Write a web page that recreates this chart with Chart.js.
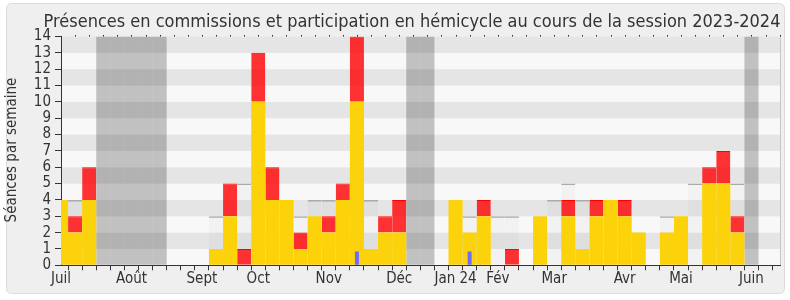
<!DOCTYPE html>
<html>
<head>
<meta charset="utf-8">
<script src="https://cdn.jsdelivr.net/npm/chart.js@4/dist/chart.umd.min.js"></script>
<style>
  html, body { margin: 0; padding: 0; background: #fff; }
  canvas { display: block; }
</style>
</head>
<body>
<canvas id="chart" width="790" height="300"></canvas>
<script>
// semaines de la session (0 = début juillet 2023)
const weeks = [0, 1, 2, 3, 4, 5, 6, 7, 8, 9, 10, 11, 12, 13, 14, 15, 16, 17, 18, 19, 20, 21, 22, 23, 24, 25,
               26, 27, 28, 29, 30, 31, 32, 33, 34, 35, 36, 37, 38, 39, 40, 41, 42, 43, 44, 45, 46, 47, 48, 49, 50, 51];
const monthWeeks = [0, 5, 10, 14, 19, 24, 28, 31, 35, 40, 44, 49];
const monthLabels = ['Juil', 'Août', 'Sept', 'Oct', 'Nov', 'Déc', 'Jan 24', 'Fév', 'Mar', 'Avr', 'Mai', 'Juin'];

const commission = [4, 2, 4, 0, 0, 0, 0, 0, 0, 0, 0, 1, 3, 0, 10, 4, 4, 1, 3, 2, 4, 10, 1, 2, 2, 0,
                    0, 0, 4, 2, 3, 0, 0, 0, 3, 0, 3, 1, 3, 4, 3, 2, 0, 2, 3, 0, 5, 5, 2, 0, 0, 0];
const hemicycle  = [0, 1, 2, 0, 0, 0, 0, 0, 0, 0, 0, 0, 2, 1, 3, 2, 0, 1, 0, 1, 1, 4, 0, 1, 2, 0,
                    0, 0, 0, 0, 1, 0, 1, 0, 0, 0, 1, 0, 1, 0, 1, 0, 0, 0, 0, 0, 1, 2, 1, 0, 0, 0];
const mediane    = [0, 4, 0, 0, 0, 0, 0, 0, 0, 0, 0, 3, 0, 5, 0, 0, 0, 3, 4, 4, 0, 0, 4, 0, 0, 0,
                    0, 0, 0, 3, 0, 3, 3, 0, 0, 4, 5, 4, 0, 0, 0, 0, 0, 3, 0, 5, 5, 5, 5, 0, 0, 0];
const questions  = [0, 0, 0, 0, 0, 0, 0, 0, 0, 0, 0, 0, 0, 0, 0, 0, 0, 0, 0, 0, 0, 0.85, 0, 0, 0, 0,
                    0, 0, 0, 0.85, 0, 0, 0, 0, 0, 0, 0, 0, 0, 0, 0, 0, 0, 0, 0, 0, 0, 0, 0, 0, 0, 0];
const vacances   = [0, 0, 0, 14, 14, 14, 14, 14, 0, 0, 0, 0, 0, 0, 0, 0, 0, 0, 0, 0, 0, 0, 0, 0, 0, 14,
                    14, 0, 0, 0, 0, 0, 0, 0, 0, 0, 0, 0, 0, 0, 0, 0, 0, 0, 0, 0, 0, 0, 0, 14, 0, 0];

const FONT = '"DejaVu Sans Condensed", "DejaVu Sans"';
Chart.defaults.font.family = FONT;
Chart.defaults.color = '#333';

const decorPlugin = {
    id: 'decor',
    beforeDraw(chart) {
        const { ctx, chartArea: a, scales: { y } } = chart;
        ctx.save();
        ctx.fillStyle = '#fff';
        ctx.fillRect(0, 0, chart.width, chart.height);
        ctx.beginPath();
        ctx.roundRect(6.5, 3.5, 778, 290, 5);
        ctx.fillStyle = '#efefef';
        ctx.fill();
        ctx.strokeStyle = '#dcdcdc';
        ctx.lineWidth = 1;
        ctx.stroke();
        // bandes horizontales
        for (let v = 0; v < 14; v++) {
            const top = y.getPixelForValue(v + 1);
            const bot = y.getPixelForValue(v);
            ctx.fillStyle = v % 2 === 1 ? '#e5e5e5' : '#f8f8f8';
            ctx.fillRect(a.left, top, a.right - a.left, bot - top);
        }
        ctx.fillStyle = '#c8c8c8';
        ctx.fillRect(a.right - 0.5, a.top, 1, a.bottom - a.top);
        ctx.restore();
    },
    afterDraw(chart) {
        const { ctx, chartArea: a, scales: { x } } = chart;
        ctx.save();
        ctx.fillStyle = '#333';
        ctx.font = '18px ' + FONT;
        ctx.textAlign = 'center';
        ctx.textBaseline = 'alphabetic';
        ctx.fillText('Présences en commissions et participation en hémicycle au cours de la session 2023-2024', 412, 26.7);

        ctx.translate(12, 150);
        ctx.rotate(-Math.PI / 2);
        ctx.font = '15px ' + FONT;
        ctx.textBaseline = 'middle';
        ctx.fillText('Séances par semaine', 0, 0);
        ctx.restore();

        // petits points en haut de chaque semaine
        ctx.save();
        ctx.fillStyle = '#222';
        weeks.forEach(w => {
            if (w === 0) return;
            const px = Math.round(x.getPixelForValue(w));
            ctx.fillRect(px, a.top - 1.5, 1, 1.5);
        });
        ctx.restore();
    }
};

const barBase = {
    grouped: false,
    barPercentage: 1,
    categoryPercentage: 1,
    inflateAmount: 0,
    borderWidth: 0
};

new Chart(document.getElementById('chart'), {
    type: 'bar',
    data: {
        labels: weeks,
        datasets: [
            { ...barBase, label: 'Questions orales', data: questions, stack: 'q',
              backgroundColor: '#6b6bff', barPercentage: 0.28 },
            { ...barBase, label: 'Commission', data: commission, stack: 's',
              backgroundColor: '#fcd20a' },
            { ...barBase, label: 'Hémicycle', data: hemicycle, stack: 's',
              backgroundColor: 'rgba(255, 0, 0, 0.8)', borderColor: '#ff0000',
              borderWidth: { top: 1, left: 0, right: 0, bottom: 0 }, borderSkipped: false },
            { ...barBase, label: 'Médiane', data: mediane, stack: 'm',
              backgroundColor: 'rgba(0, 0, 0, 0.025)', borderColor: '#aaaaaa',
              borderWidth: { top: 1.5, left: 0, right: 0, bottom: 0 }, borderSkipped: false },
            { ...barBase, label: 'Vacances', data: vacances, stack: 'v',
              backgroundColor: 'rgba(0, 0, 0, 0.22)' }
        ]
    },
    options: {
        responsive: false,
        animation: false,
        devicePixelRatio: 1,
        layout: { padding: { top: 36.5, left: 0, right: 9.5, bottom: 0 } },
        scales: {
            x: {
                type: 'linear',
                min: 0,
                max: 51.06,
                offset: false,
                z: 1,
                afterFit: scale => { scale.height = 34.7; },
                afterBuildTicks: scale => { scale.ticks = weeks.map(w => ({ value: w })); },
                ticks: {
                    autoSkip: false,
                    maxRotation: 0,
                    minRotation: 0,
                    padding: 0,
                    font: { size: 15 },
                    color: '#333',
                    callback: value => {
                        const k = monthWeeks.indexOf(value);
                        return k >= 0 ? monthLabels[k] : '';
                    }
                },
                grid: { drawOnChartArea: false, tickLength: 5, color: '#333' },
                border: { color: '#333', width: 1 }
            },
            y: {
                stacked: true,
                min: 0,
                max: 14,
                z: 1,
                afterFit: scale => { scale.width = 61; },
                ticks: { stepSize: 1, autoSkip: false, padding: 4, font: { size: 15 }, color: '#333' },
                grid: { drawOnChartArea: false, tickLength: 6, color: '#333' },
                border: { color: '#333', width: 1 }
            }
        },
        plugins: {
            legend: { display: false },
            title: { display: false },
            tooltip: { enabled: false }
        }
    },
    plugins: [decorPlugin]
});
</script>
</body>
</html>
